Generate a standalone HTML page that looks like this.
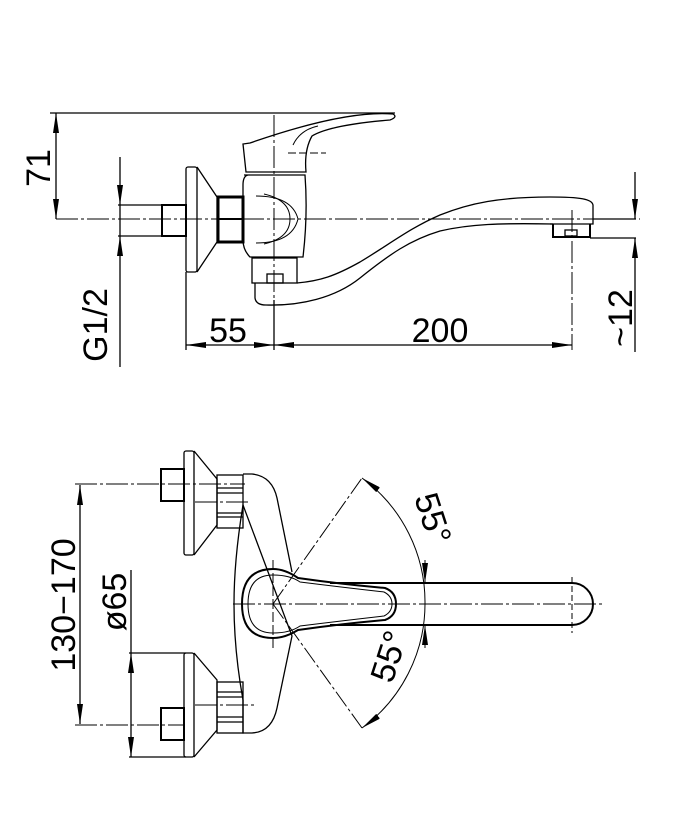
<!DOCTYPE html>
<html><head><meta charset="utf-8"><style>
html,body{margin:0;padding:0;background:#fff;}
svg{display:block}
text{font-family:"Liberation Sans",sans-serif;font-size:34px;fill:#000;}
</style></head><body>
<svg width="679" height="838" viewBox="0 0 679 838" xmlns="http://www.w3.org/2000/svg">
<defs>
<marker id="a" viewBox="0 0 20 6" refX="20" refY="3" markerWidth="20" markerHeight="6" markerUnits="userSpaceOnUse" orient="auto-start-reverse"><path d="M0,0 L20,3 L0,6Z" fill="#000"/></marker>
</defs>
<g fill="none" stroke="#000" stroke-width="1.3">
<line x1="56" y1="219" x2="640" y2="219" stroke-dasharray="22,3,3,3" stroke-width="1"/>
<line x1="274" y1="115" x2="274" y2="350" stroke-dasharray="22,3,3,3" stroke-width="1"/>
<line x1="572" y1="210" x2="572" y2="350" stroke-dasharray="22,3,3,3" stroke-width="1"/>
<line x1="288" y1="153" x2="326" y2="153" stroke-dasharray="8,3" stroke-width="1"/>
<line x1="50" y1="113" x2="395" y2="113"/>
<line x1="56" y1="113" x2="56" y2="219" marker-start="url(#a)" marker-end="url(#a)"/>
<line x1="120" y1="157" x2="120" y2="205" marker-end="url(#a)"/>
<line x1="120" y1="367" x2="120" y2="236" marker-end="url(#a)"/>
<line x1="120" y1="205" x2="120" y2="236"/>
<line x1="118" y1="205" x2="162" y2="205"/>
<line x1="118" y1="236" x2="162" y2="236"/>
<rect x="162" y="205" width="24" height="31" stroke-width="2"/>
<rect x="186" y="167" width="11" height="105" rx="2"/>
<path d="M197,167 L217,197 L217,242 L197,272"/>
<line x1="186" y1="272" x2="186" y2="350"/>
<rect x="218" y="197" width="25" height="45" stroke-width="3"/>
<line x1="218" y1="219" x2="243" y2="219" stroke-width="2"/>
<path d="M244,175 L305,175 Q308,215 303,257 L250,257 Q243,250 243,240 L243,185 Q243,176 248,175"/>
<path d="M256,196 Q292,196 298,219 Q292,243 256,243" stroke-width="1"/>
<path d="M264,194 Q290,200 290,219 Q290,238 264,244" stroke-width="1"/>
<path d="M243,144 L246,172 L306,172 Q304,150 312,136 Q330,125 390,120 Q398,117 393,114 Q345,110 250,143 Z"/>
<path d="M293,145 Q300,130 318,126" stroke-width="1"/>
<rect x="252" y="258" width="45" height="25"/>
<rect x="267" y="274" width="16" height="9"/>
<!-- spout -->
<path d="M297,283 C320,281 335,276 360,262 C390,244 410,228 440,215 C470,203 500,197 550,197 C580,197 592,199 593,205 L593,224 L550,224"/>
<path d="M255,283 L255,298 Q256,305 266,305 C300,306 335,298 360,278 C390,254 410,240 440,231 C470,224 500,223 553,224"/>
<path d="M553,224 L553,237 L590,237 L590,224" stroke-width="2"/>
<rect x="565" y="230" width="12" height="6"/>
<line x1="274" y1="300" x2="274" y2="350"/>
<line x1="186" y1="345" x2="274" y2="345" marker-start="url(#a)" marker-end="url(#a)"/>
<line x1="274" y1="345" x2="572" y2="345" marker-start="url(#a)" marker-end="url(#a)"/>
<line x1="590" y1="238" x2="636" y2="238"/>
<line x1="593" y1="219" x2="636" y2="219"/>
<line x1="635" y1="172" x2="635" y2="219" marker-end="url(#a)"/>
<line x1="635" y1="352" x2="635" y2="238" marker-end="url(#a)"/>

<line x1="75" y1="484" x2="245" y2="484" stroke-dasharray="22,3,3,3" stroke-width="1"/>
<line x1="75" y1="725" x2="185" y2="725" stroke-dasharray="22,3,3,3" stroke-width="1"/>
<line x1="195" y1="502" x2="250" y2="502" stroke-dasharray="22,3,3,3" stroke-width="1"/>
<line x1="195" y1="705" x2="255" y2="705" stroke-dasharray="22,3,3,3" stroke-width="1"/>
<line x1="80" y1="485" x2="80" y2="724" marker-start="url(#a)" marker-end="url(#a)"/>
<line x1="131" y1="570" x2="131" y2="653" />
<line x1="131" y1="700" x2="131" y2="653" marker-end="url(#a)"/>
<line x1="131" y1="700" x2="131" y2="757" marker-end="url(#a)"/>
<line x1="129" y1="653" x2="186" y2="653"/>
<line x1="129" y1="757" x2="186" y2="757"/>
<rect x="161" y="469" width="23" height="32" stroke-width="2"/>
<rect x="184" y="451" width="10" height="104" rx="2"/>
<path d="M194,451 L217,479 L217,525 L194,555"/>
<rect x="217" y="475" width="26" height="53"/>
<line x1="217" y1="488" x2="243" y2="488"/><line x1="217" y1="493" x2="243" y2="493"/>
<line x1="217" y1="513" x2="243" y2="513"/><line x1="217" y1="517" x2="243" y2="517"/>
<rect x="161" y="708" width="23" height="32" stroke-width="2"/>
<rect x="184" y="653" width="10" height="104" rx="2"/>
<path d="M194,653 L217,680 L217,730 L194,757"/>
<rect x="217" y="682" width="26" height="51"/>
<line x1="217" y1="692" x2="243" y2="692"/><line x1="217" y1="697" x2="243" y2="697"/>
<line x1="217" y1="717" x2="243" y2="717"/><line x1="217" y1="722" x2="243" y2="722"/>
<path d="M243,474 L252,474 Q272,476 277,498 L292,572 M292,636 L277,708 Q272,732 252,733 L243,733 L243,700 Q234,650 234,604 Q234,560 243,505 Z"/>
<path d="M273,569 Q285,569 298,578 Q340,584 385,588 Q396,592 396,604 Q396,616 385,620 Q340,624 298,630 Q285,638 273,638 Q242,638 242,604 Q242,569 273,569 Z" stroke-width="2"/>
<path d="M273,575 Q290,575 300,582 Q340,587 384,592 Q392,596 392,604 Q392,612 384,616 Q340,621 300,626 Q290,633 273,633 Q248,633 248,604 Q248,575 273,575 Z" stroke-width="1"/>
<path d="M330,583 L572,583 A21,21 0 0 1 572,625 L330,625" stroke-width="2"/>
<line x1="572" y1="577" x2="572" y2="633" stroke-dasharray="6,3" stroke-width="1"/>
<line x1="273" y1="560" x2="273" y2="648" stroke-dasharray="10,3" stroke-width="1"/>
<line x1="233" y1="604" x2="605" y2="604" stroke-dasharray="22,3,3,3" stroke-width="1"/>
<line x1="273" y1="604" x2="362" y2="478" stroke-width="1" stroke-dasharray="18,3,3,3"/>
<line x1="273" y1="604" x2="362" y2="728" stroke-width="1" stroke-dasharray="18,3,3,3"/>
<path d="M362,478 A154,154 0 0 1 425,604" stroke-width="1" marker-start="url(#a)"/>
<path d="M362,728 A154,154 0 0 0 425,604" stroke-width="1" marker-start="url(#a)"/>
<line x1="425" y1="560" x2="425" y2="583" stroke-width="1" marker-end="url(#a)"/>
<line x1="425" y1="648" x2="425" y2="625" stroke-width="1" marker-end="url(#a)"/>
</g>
<g>
<text transform="translate(50,168) rotate(-90)" text-anchor="middle">71</text>
<text transform="translate(107,325) rotate(-90)" text-anchor="middle">G1/2</text>
<text x="228" y="342" text-anchor="middle">55</text>
<text x="440" y="342" text-anchor="middle">200</text>
<text transform="translate(632,318) rotate(-90)" text-anchor="middle">~12</text>
<text transform="translate(75,605) rotate(-90)" text-anchor="middle">130−170</text>
<text transform="translate(126,602) rotate(-90)" text-anchor="middle">ø65</text>
<text transform="translate(422,522) rotate(72)" text-anchor="middle">55°</text>
<text transform="translate(400,660) rotate(-72)" text-anchor="middle">55°</text>
</g>
</svg>
</body></html>
